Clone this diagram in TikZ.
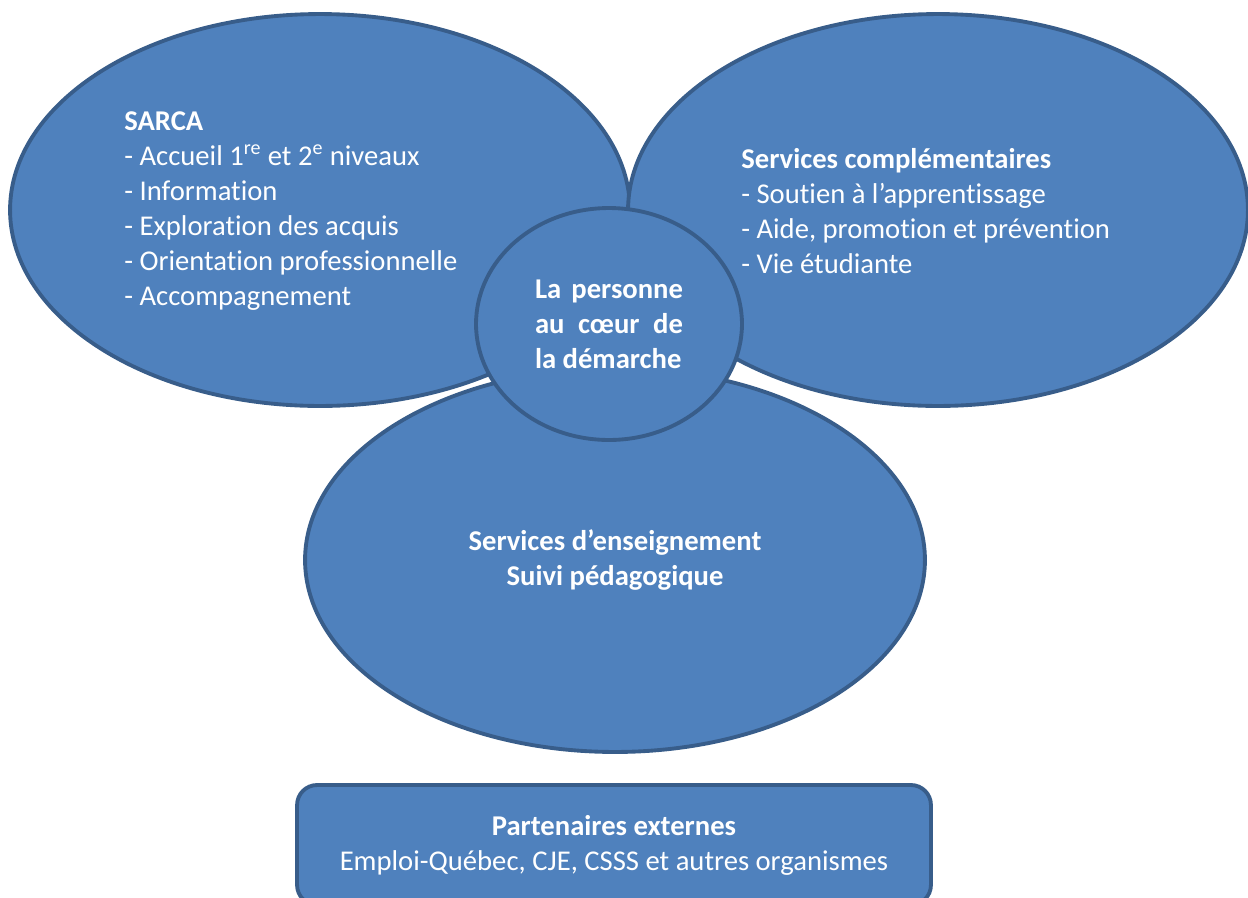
\documentclass[tikz,border=0pt]{standalone}
\usepackage{fontspec}
\setmainfont{Carlito}[Ligatures=NoCommon]
\usetikzlibrary{shapes.geometric,positioning}
\definecolor{fillblue}{HTML}{4F81BD}
\definecolor{edgeblue}{HTML}{385D8A}

\begin{document}
\begin{tikzpicture}[x=0.02cm,y=-0.02cm]
\tikzstyle{every node}+=[inner sep=0pt, text=white, font=\fontsize{16.3}{19.9}\selectfont]
\tikzstyle{blob}=[ellipse, draw=edgeblue, fill=fillblue, line width=2.2pt]
\useasboundingbox (0,0) rectangle (1248,897);
% the three service areas
\node [blob, minimum width=12.4cm, minimum height=7.84cm] (sarca) at (320,210) {};
\node [blob, minimum width=12.4cm, minimum height=7.84cm] (compl) at (938,210) {};
\node [blob, minimum width=12.4cm, minimum height=7.68cm, align=center] (enseign) at (615,560)
  {\textbf{Services d’enseignement}\\ \textbf{Suivi pédagogique}};
% the person in the middle
\node [blob, minimum width=5.32cm, minimum height=4.64cm, align=left] (personne) at (609,324)
  {\textbf{\makebox[2.96cm][s]{La personne}}\\ \textbf{\makebox[2.96cm][s]{au cœur de}}\\ \textbf{la démarche}};
\node [anchor=west, align=left] (sarcatext) at (124,211)
  {\textbf{SARCA}\\ - Accueil 1\textsuperscript{re} et 2\textsuperscript{e} niveaux\\ - Information\\
   - Exploration des acquis\\ - Orientation professionnelle\\ - Accompagnement};
\node [anchor=west, align=left] (compltext) at (741,211)
  {\textbf{Services complémentaires}\\ - Soutien à l’apprentissage\\
   - Aide, promotion et prévention\\ - Vie étudiante};
% partners box at the bottom
\node [draw=edgeblue, fill=fillblue, line width=2.2pt, rounded corners=0.4cm,
  minimum width=12.68cm, minimum height=2.4cm, align=center] (partners) at (614,845)
  {\textbf{Partenaires externes}\\ Emploi-Québec, CJE, CSSS et autres organismes};
\end{tikzpicture}
\end{document}
